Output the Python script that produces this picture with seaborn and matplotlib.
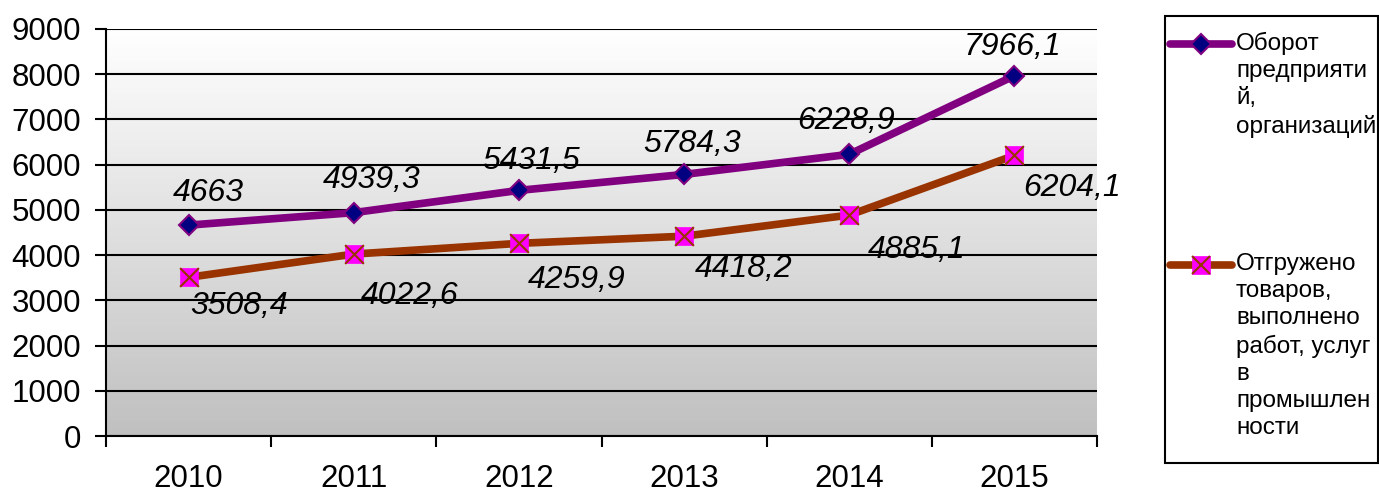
import numpy as np
import pandas as pd
import seaborn as sns
import matplotlib
matplotlib.use('Agg')
import matplotlib.pyplot as plt
from matplotlib.lines import Line2D
from matplotlib.patches import Rectangle
from matplotlib.colors import LinearSegmentedColormap

# ---- data ----
years = ['2010', '2011', '2012', '2013', '2014', '2015']
turnover = [4663, 4939.3, 5431.5, 5784.3, 6228.9, 7966.1]
shipped = [3508.4, 4022.6, 4259.9, 4418.2, 4885.1, 6204.1]
y_ticks = list(range(0, 9001, 1000))
legend_labels = ['Оборот\nпредприяти\nй,\nорганизаций',
                 'Отгружено\nтоваров,\nвыполнено\nработ, услуг\nв\nпромышлен\nности']

# label offsets (pixels, screen y down)
lab1_off = [(20, -32), (18, -33), (12, -29), (8, -30), (-3, -33), (-2, -29)]
lab2_off = [(50, 29), (56, 42), (58, 37), (60, 33), (67, 35), (58, 33)]

sns.set_theme(style='white')
plt.rcParams['font.family'] = ['Liberation Sans', 'DejaVu Sans']

W, H = 1379, 496
fig = plt.figure(figsize=(W / 100, H / 100), dpi=100)
ax = fig.add_axes([106 / W, 1 - 436 / H, (1097 - 106) / W, (436 - 29) / H])

df = pd.DataFrame({'x': np.arange(len(years)), 'turnover': turnover, 'shipped': shipped})

# gradient background
cmap = LinearSegmentedColormap.from_list('g', ['#c0c0c0', '#ffffff'])
grad = np.linspace(1, 0, 256).reshape(-1, 1)
ax.imshow(grad, extent=[0, 1, 0, 1], transform=ax.transAxes, aspect='auto',
          cmap=cmap, zorder=0, interpolation='bicubic')

ax.grid(axis='y', color='black', lw=1.5, zorder=1)
ax.grid(axis='x', visible=False)

purple = '#800080'
brown = '#993300'
sns.lineplot(data=df, x='x', y='turnover', ax=ax, color=purple, lw=5.5,
             marker='D', markersize=10, markerfacecolor='#000080',
             markeredgecolor=purple, markeredgewidth=1.5, zorder=3)
sns.lineplot(data=df, x='x', y='shipped', ax=ax, color=brown, lw=5.5,
             marker='s', markersize=13.5, markerfacecolor='#ff00ff',
             markeredgecolor='#ff00ff', markeredgewidth=0.5, zorder=3)
sns.scatterplot(data=df, x='x', y='shipped', ax=ax, marker='x', s=13.5 ** 2,
                color=brown, linewidth=1.5, zorder=4, legend=False)

for i, v in enumerate(turnover):
    dx, dy = lab1_off[i]
    ax.annotate(format(v, 'g').replace('.', ','), (i, v), xytext=(dx * 0.72, -dy * 0.72),
                textcoords='offset points', ha='center', va='center',
                fontsize=23, style='italic', color='black', zorder=5, annotation_clip=False)
for i, v in enumerate(shipped):
    dx, dy = lab2_off[i]
    ax.annotate(format(v, 'g').replace('.', ','), (i, v), xytext=(dx * 0.72, -dy * 0.72),
                textcoords='offset points', ha='center', va='center',
                fontsize=23, style='italic', color='black', zorder=5, annotation_clip=False)

ax.set_xlim(-0.5, len(years) - 0.5)
ax.set_ylim(0, 9000)
ax.set_yticks(y_ticks)
ax.set_yticklabels([str(t) for t in y_ticks], fontsize=22.5, color='black')
ax.set_xticks(np.arange(-0.5, len(years), 1.0))
ax.set_xticklabels([])
ax.set_xticks(np.arange(len(years)), minor=True)
ax.set_xticklabels(years, minor=True, fontsize=22.5, color='black')
ax.tick_params(axis='y', which='major', direction='out', length=8, width=1.5,
               color='black', pad=10, left=True)
ax.tick_params(axis='x', which='major', direction='out', length=8, width=1.5,
               color='black', bottom=True)
ax.tick_params(axis='x', which='minor', length=0, pad=20, bottom=True)
ax.set_xlabel('')
ax.set_ylabel('')
for s in ['top', 'right']:
    ax.spines[s].set_visible(False)
for s in ['left', 'bottom']:
    ax.spines[s].set_visible(True)
    ax.spines[s].set_color('black')
    ax.spines[s].set_linewidth(1.5)
    ax.spines[s].set_zorder(2)

# ---- manual legend ----
def fx(px):
    return px / W

def fy(py):
    return 1 - py / H

fig.patches.append(Rectangle((fx(1165), fy(463)), fx(1378) - fx(1165), fy(16) - fy(463),
                             transform=fig.transFigure, facecolor='white',
                             edgecolor='black', lw=1.5, zorder=0))
# entry 1
fig.add_artist(Line2D([fx(1170), fx(1232)], [fy(44), fy(44)], transform=fig.transFigure,
                      color=purple, lw=5.5))
fig.add_artist(Line2D([fx(1201)], [fy(44)], transform=fig.transFigure, marker='D',
                      markersize=10, markerfacecolor='#000080', markeredgecolor=purple,
                      markeredgewidth=1.5, linestyle='none'))
fig.text(fx(1236), fy(32), legend_labels[0], ha='left', va='top', fontsize=17.5,
         linespacing=1.3, color='black')
# entry 2
fig.add_artist(Line2D([fx(1170), fx(1232)], [fy(265), fy(265)], transform=fig.transFigure,
                      color=brown, lw=5.5))
fig.add_artist(Line2D([fx(1201)], [fy(265)], transform=fig.transFigure, marker='s',
                      markersize=13.5, markerfacecolor='#ff00ff', markeredgecolor='#ff00ff',
                      markeredgewidth=0.5, linestyle='none'))
fig.add_artist(Line2D([fx(1201)], [fy(265)], transform=fig.transFigure, marker='x',
                      markersize=13.5, markeredgecolor=brown, markeredgewidth=1.5,
                      linestyle='none'))
fig.text(fx(1236), fy(253), legend_labels[1], ha='left', va='top', fontsize=17.5,
         linespacing=1.3, color='black')

fig.savefig('out.png', dpi=100)
